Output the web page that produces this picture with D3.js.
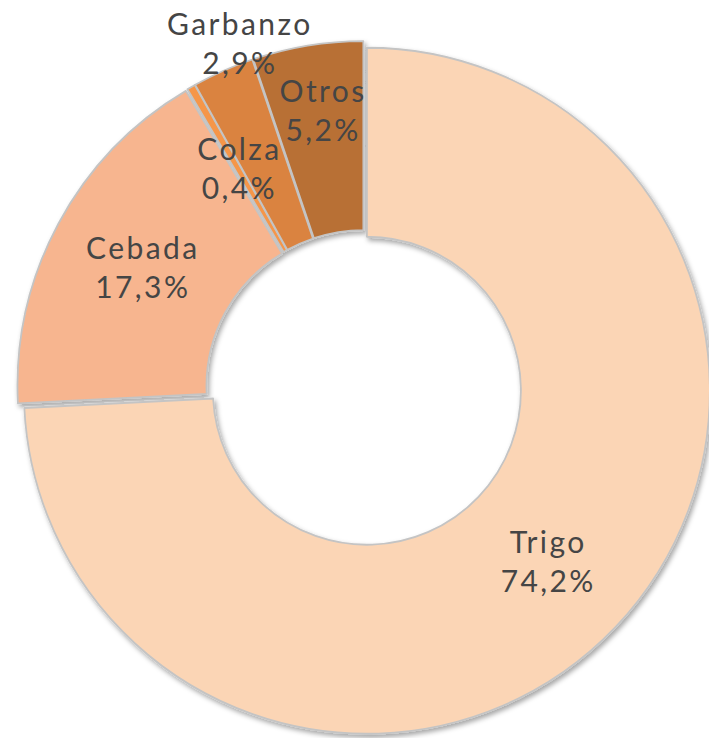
<!DOCTYPE html>
<html>
<head>
<meta charset="utf-8">
<script src="https://cdn.jsdelivr.net/npm/d3@7"></script>
<style>
  html, body { margin: 0; padding: 0; background: #ffffff; }
  svg { display: block; }
</style>
</head>
<body>
<svg id="chart" width="709" height="738"></svg>
<script>
// Superficie de cultivos (% del total)
const categories = ["Trigo", "Cebada", "Colza", "Garbanzo", "Otros"];
const values = [74.2, 17.3, 0.4, 2.9, 5.2];
const valueLabels = ["74,2%", "17,3%", "0,4%", "2,9%", "5,2%"];
const colors = ["#FBD5B5", "#F7B58F", "#F5964A", "#DA833F", "#B86F34"];

const width = 709, height = 738;
const cx = 364, cy = 388;
const outerR = 343, innerR = 154;
const explode = 4;

const svg = d3.select("#chart");

const defs = svg.append("defs");
const shadow = defs.append("filter")
  .attr("id", "shadow")
  .attr("x", "-10%").attr("y", "-10%")
  .attr("width", "120%").attr("height", "120%");
shadow.append("feDropShadow")
  .attr("dx", 2).attr("dy", 3)
  .attr("stdDeviation", 2.5)
  .attr("flood-color", "#000")
  .attr("flood-opacity", 0.35);

const data = categories.map((c, i) => ({ name: c, value: values[i], label: valueLabels[i], color: colors[i] }));

const pie = d3.pie().value(d => d.value).sort(null);
const arcs = pie(data);

const arc = d3.arc().innerRadius(innerR).outerRadius(outerR);

const g = svg.append("g").attr("transform", `translate(${cx},${cy})`);

function explodeOffset(d) {
  const a = (d.startAngle + d.endAngle) / 2;
  return [explode * Math.sin(a), -explode * Math.cos(a)];
}

g.append("g")
  .attr("filter", "url(#shadow)")
  .selectAll("path")
  .data(arcs)
  .join("path")
  .attr("transform", d => { const [x, y] = explodeOffset(d); return `translate(${x},${y})`; })
  .attr("d", arc)
  .attr("fill", d => d.data.color)
  .attr("stroke", "#C4C4C4")
  .attr("stroke-width", 1.8)
  .attr("stroke-linejoin", "round");

// Label placement: centroid of the slice, with a few labels pushed outward
const labelAdjust = {
  Otros: { r: 280, da: 0.7 },
  Garbanzo: { r: 366, da: 3.9 }
};
const midR = (innerR + outerR) / 2 + explode;

g.append("g")
  .selectAll("text")
  .data(arcs)
  .join("text")
  .attr("font-family", "Lato, 'Open Sans', sans-serif")
  .attr("font-size", 30)
  .attr("letter-spacing", 2.4)
  .attr("fill", "#454545")
  .attr("text-anchor", "middle")
  .each(function(d) {
    const adj = labelAdjust[d.data.name] || { r: midR, da: 0 };
    const a = (d.startAngle + d.endAngle) / 2 + adj.da * Math.PI / 180;
    const x = adj.r * Math.sin(a) + 1.2;
    const y = -adj.r * Math.cos(a);
    const t = d3.select(this);
    t.append("tspan").attr("x", x).attr("y", y - 9).text(d.data.name);
    t.append("tspan").attr("x", x).attr("y", y + 30).text(d.data.label);
  });
</script>
</body>
</html>
